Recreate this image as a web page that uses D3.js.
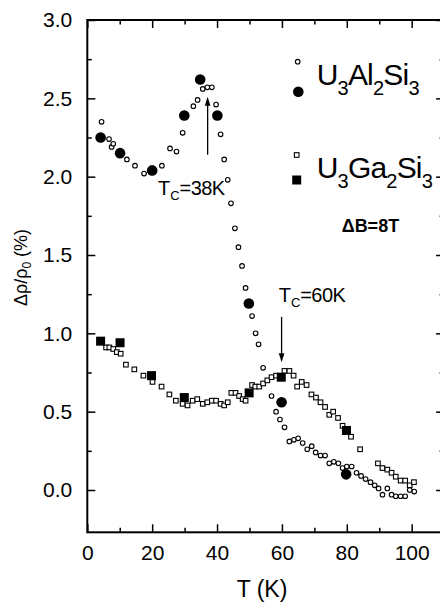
<!DOCTYPE html>
<html><head><meta charset="utf-8">
<script src="https://cdn.jsdelivr.net/npm/d3@7"></script>
<style>
html,body{margin:0;padding:0;background:#fff;}
svg{display:block;font-family:"Liberation Sans",Arial,Helvetica,sans-serif;}
</style></head>
<body>
<svg id="chart" width="440" height="603"></svg>
<script>
// ---- data (T in K, Δρ/ρ0 in %) ----
const alOpenT = [4.4,6.7,7.5,8.0,12.2,14.7,17.5,23,25.5,27.5,29.4,32.7,34,35.6,37,38.4,39.7,41.1,42.2,43.3,44.3,45.5,46.6,47.7,48.8,50.8,51.9,52.8,54.2,56.8,58.2,59.4,60.8,62.3,63.7,65,66.4,67.8,69.2,70.4,71.9,73.3,74.6,76,77.4,78.7,80,81.5,83,84.4,85.8,87.3,88.6,89.8,91,92.5,93.8,95.1,96.6,98,99.4,100.8];
const alOpenV = [2.35,2.24,2.19,2.21,2.11,2.07,2.02,2.07,2.18,2.16,2.28,2.45,2.49,2.56,2.57,2.57,2.46,2.27,2.11,1.98,1.83,1.67,1.55,1.43,1.29,1.11,1.00,0.93,0.78,0.60,0.50,0.45,0.40,0.31,0.32,0.33,0.30,0.26,0.28,0.24,0.22,0.22,0.17,0.18,0.17,0.14,0.15,0.15,0.11,0.09,0.07,0.05,0.03,0.01,-0.03,0.01,-0.03,-0.04,-0.04,-0.04,0.00,-0.01];
const alFullT = [4.1,10.1,20,29.9,34.8,40.1,49.8,59.9,79.8];
const alFullV = [2.25,2.15,2.04,2.39,2.62,2.39,1.19,0.56,0.10];

const gaOpenT = [5.8,6.8,8,9.1,10.3,11.9,14.5,17.3,20.1,22.9,25.3,27.3,29.4,30.9,32.5,33.9,35.6,37,38.4,39.7,41.1,42.2,43.3,44.4,45.7,46.8,47.9,48.8,50.8,51.8,53,54.2,55.5,56.8,58.2,60.8,62.3,63.6,64.7,66.1,67.6,69.1,70.5,71.9,73.3,74.6,75.8,77.3,78.7,81.3,84.1,89.6,91,92.5,93.8,95.1,96.6,98,99.4,100.7];
const gaOpenV = [0.91,0.91,0.90,0.88,0.87,0.80,0.77,0.73,0.69,0.66,0.61,0.57,0.55,0.54,0.57,0.58,0.55,0.56,0.57,0.57,0.55,0.54,0.56,0.62,0.62,0.60,0.58,0.57,0.67,0.66,0.66,0.68,0.70,0.72,0.73,0.76,0.76,0.73,0.66,0.69,0.67,0.61,0.59,0.56,0.53,0.48,0.50,0.46,0.41,0.34,0.26,0.17,0.14,0.13,0.11,0.085,0.06,0.06,0.03,0.05];
const gaFullT = [4.1,10.1,19.8,29.9,49.9,59.8,79.9];
const gaFullV = [0.95,0.94,0.73,0.59,0.62,0.72,0.38];

const xTickMajor = [0,20,40,60,80,100];
const xTickMinor = [10,30,50,70,90,110];
const yTickMajor = [0.0,0.5,1.0,1.5,2.0,2.5,3.0];
const yTickMinor = [0.25,0.75,1.25,1.75,2.25,2.75];

// ---- layout ----
const svg = d3.select("#chart");
const L = 87.3, T = 20, R = 444.1, B = 532.3;
const x = d3.scaleLinear().domain([0,110]).range([L,R]);
const y = d3.scaleLinear().domain([-0.27,3.0]).range([B,T]);
const fmt = d3.format(".1f");

// axes (ticks inward)
function styleAxis(g){ g.select(".domain").remove(); g.selectAll("line").attr("stroke","#000").attr("stroke-width",1.5); g.selectAll("text").attr("fill","#000").style("font-family","'Liberation Sans',Arial,sans-serif"); }
svg.append("g").attr("transform",`translate(0,${B})`)
  .call(d3.axisBottom(x).tickValues(xTickMajor).tickSize(-8).tickPadding(13).tickFormat(d3.format("d")))
  .call(styleAxis).selectAll("text").style("font-size","21px");
svg.append("g").attr("transform",`translate(0,${B})`)
  .call(d3.axisBottom(x).tickValues(xTickMinor).tickSize(-4.5).tickFormat(""))
  .call(styleAxis);
svg.append("g").attr("transform",`translate(0,${T})`)
  .call(d3.axisTop(x).tickValues(xTickMajor).tickSize(-8).tickFormat(""))
  .call(styleAxis);
svg.append("g").attr("transform",`translate(0,${T})`)
  .call(d3.axisTop(x).tickValues(xTickMinor).tickSize(-4.5).tickFormat(""))
  .call(styleAxis);
svg.append("g").attr("transform",`translate(${L},0)`)
  .call(d3.axisLeft(y).tickValues(yTickMajor).tickSize(-8).tickPadding(15).tickFormat(fmt))
  .call(styleAxis).selectAll("text").style("font-size","21px");
svg.append("g").attr("transform",`translate(${L},0)`)
  .call(d3.axisLeft(y).tickValues(yTickMinor).tickSize(-4.5).tickFormat(""))
  .call(styleAxis);
svg.append("g").attr("transform",`translate(${R},0)`)
  .call(d3.axisRight(y).tickValues(yTickMajor).tickSize(-8).tickFormat(""))
  .call(styleAxis);
svg.append("g").attr("transform",`translate(${R},0)`)
  .call(d3.axisRight(y).tickValues(yTickMinor).tickSize(-4.5).tickFormat(""))
  .call(styleAxis);

// frame
svg.append("rect").attr("x",L).attr("y",T).attr("width",R-L).attr("height",B-T)
  .attr("fill","none").attr("stroke","#000").attr("stroke-width",2);

// ---- markers ----
const pts = (ts,vs)=>ts.map((t,i)=>[t,vs[i]]);
const sq = 4.6, SQ = 9;
svg.append("g").selectAll("rect").data(pts(gaOpenT,gaOpenV)).join("rect")
  .attr("x",d=>x(d[0])-sq/2).attr("y",d=>y(d[1])-sq/2).attr("width",sq).attr("height",sq)
  .attr("fill","#fff").attr("stroke","#000").attr("stroke-width",1.1);
svg.append("g").selectAll("circle").data(pts(alOpenT,alOpenV)).join("circle")
  .attr("cx",d=>x(d[0])).attr("cy",d=>y(d[1])).attr("r",2.3)
  .attr("fill","#fff").attr("stroke","#000").attr("stroke-width",1.1);
svg.append("g").selectAll("rect").data(pts(gaFullT,gaFullV)).join("rect")
  .attr("x",d=>x(d[0])-SQ/2).attr("y",d=>y(d[1])-SQ/2).attr("width",SQ).attr("height",SQ)
  .attr("fill","#000");
svg.append("g").selectAll("circle").data(pts(alFullT,alFullV)).join("circle")
  .attr("cx",d=>x(d[0])).attr("cy",d=>y(d[1])).attr("r",5.3).attr("fill","#000");

// ---- arrows ----
function arrow(t, v0, v1){
  const xa = x(t), y0 = y(v0), y1 = y(v1), dir = Math.sign(y1-y0);
  svg.append("line").attr("x1",xa).attr("x2",xa).attr("y1",y0).attr("y2",y1-dir*8)
    .attr("stroke","#000").attr("stroke-width",1.3);
  svg.append("path").attr("d",`M${xa},${y1} L${xa-2.8},${y1-dir*9} L${xa+2.8},${y1-dir*9} Z`).attr("fill","#000");
}
arrow(37.1, 2.14, 2.51);
arrow(59.9, 1.105, 0.815);

// ---- annotation texts ----
function tcLabel(px, py, val){
  const t = svg.append("text").attr("x",px).attr("y",py).style("font-size","20px").attr("fill","#000");
  t.append("tspan").text("T");
  t.append("tspan").attr("dy",5).style("font-size","13px").text("C");
  t.append("tspan").attr("dy",-5).attr("letter-spacing","-0.6").text("=" + val);
}
tcLabel(x(21.8), y(1.885), "38K");
tcLabel(x(59.0), y(1.2), "60K");

// legend: formula with subscripts; the shift back is applied on the next tspan
function formula(px, py, parts){
  const t = svg.append("text").attr("x",px).attr("y",py).style("font-size","30px").attr("letter-spacing","-0.8").attr("fill","#000");
  let lowered = false;
  parts.forEach(p=>{
    const ts = t.append("tspan").text(p.s);
    if(p.sub){ ts.style("font-size","20px"); if(!lowered){ ts.attr("dy",10); lowered = true; } }
    else if(lowered){ ts.attr("dy",-10); lowered = false; }
  });
}
svg.append("circle").attr("cx",297.7).attr("cy",61.7).attr("r",2.3).attr("fill","#fff").attr("stroke","#000").attr("stroke-width",1.1);
svg.append("circle").attr("cx",298.3).attr("cy",91.7).attr("r",5.3).attr("fill","#000");
formula(316.7, 85, [{s:"U"},{s:"3",sub:1},{s:"Al"},{s:"2",sub:1},{s:"Si"},{s:"3",sub:1}]);
svg.append("rect").attr("x",296.7-sq/2).attr("y",155-sq/2).attr("width",sq).attr("height",sq).attr("fill","#fff").attr("stroke","#000").attr("stroke-width",1.1);
svg.append("rect").attr("x",296.7-SQ/2).attr("y",180-SQ/2).attr("width",SQ).attr("height",SQ).attr("fill","#000");
formula(316.7, 178.3, [{s:"U"},{s:"3",sub:1},{s:"Ga"},{s:"2",sub:1},{s:"Si"},{s:"3",sub:1}]);
svg.append("text").attr("x",341.7).attr("y",231.7).style("font-size","18px").style("font-weight","bold").attr("fill","#000").text("ΔB=8T");

// axis titles
svg.append("text").attr("x",262).attr("y",597).attr("text-anchor","middle").style("font-size","23px").attr("fill","#000").text("T (K)");
const yl = svg.append("text").attr("transform","translate(27,267.5) rotate(-90)").attr("text-anchor","middle").style("font-size","18px").attr("fill","#000");
yl.append("tspan").text("Δρ/ρ");
yl.append("tspan").attr("dy",4).style("font-size","12px").text("0");
yl.append("tspan").attr("dy",-4).text(" (%)");
</script>
</body></html>
